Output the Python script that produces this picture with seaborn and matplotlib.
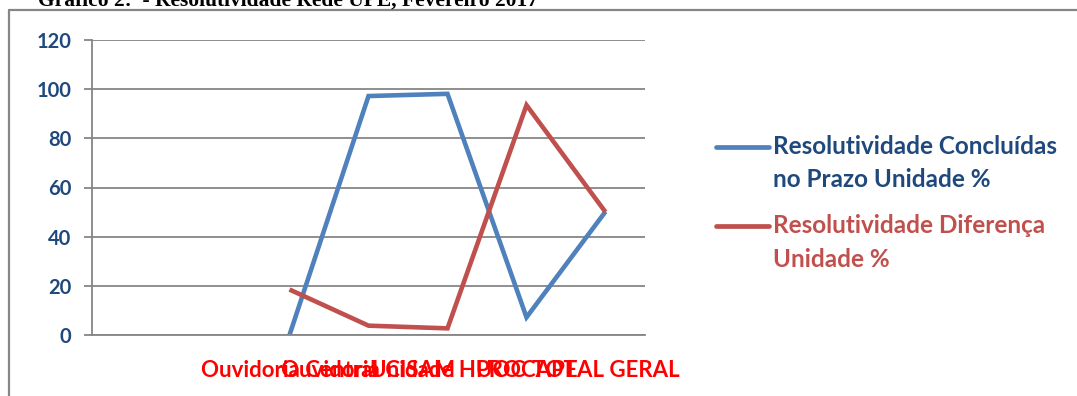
import numpy as np
import pandas as pd
import matplotlib
matplotlib.use("Agg")
import matplotlib.pyplot as plt
from matplotlib.lines import Line2D
from matplotlib.legend_handler import HandlerLine2D
import seaborn as sns

# ---- data ----
categories = ["", "", "Ouvidoria Central", "Ouvidoria CISAM", "Unidade HUOC", "PROCAPE", "TOTAL GERAL"]
concluidas = [np.nan, np.nan, 0, 97.2, 98.1, 7.2, 50.2]
diferenca = [np.nan, np.nan, 18.5, 3.8, 2.7, 93.5, 50.0]
series_names = ["Resolutividade Concluídas\nno Prazo Unidade %",
                "Resolutividade Diferença\nUnidade %"]
y_ticks = [0, 20, 40, 60, 80, 100, 120]
title = "Gráfico 2:  - Resolutividade Rede UPE, Fevereiro 2017"

blue = "#4F81BD"
red = "#C0504D"
dark_blue = "#1F497D"
gray = "#868686"

sns.set_style("white")
plt.rcParams["font.family"] = ["Lato", "DejaVu Sans"]

pos = np.arange(len(categories))
df = pd.concat([
    pd.DataFrame({"pos": pos, "valor": concluidas, "serie": series_names[0]}),
    pd.DataFrame({"pos": pos, "valor": diferenca, "serie": series_names[1]}),
]).dropna()

fig = plt.figure(figsize=(10.77, 3.96), dpi=100)
ax = fig.add_axes([92 / 1077, 1 - 335 / 396, (645 - 92) / 1077, (335 - 40) / 396])

sns.lineplot(data=df, x="pos", y="valor", hue="serie", palette=[blue, red],
             linewidth=3.3, ax=ax, legend=False, sort=False)
for ln in ax.lines:
    ln.set_solid_capstyle("butt")
    ln.set_solid_joinstyle("miter")

ax.set_xlim(-0.5, len(categories) - 0.5)
ax.set_ylim(min(y_ticks), max(y_ticks))
ax.set_yticks(y_ticks)
ax.set_yticklabels([str(t) for t in y_ticks], color=dark_blue, fontweight="bold", fontsize=14.5)
ax.yaxis.grid(True, color=gray, linewidth=1.3)
ax.xaxis.grid(False)
ax.set_axisbelow(True)

# tick marks at category boundaries, labels at centers
ax.set_xticks(np.arange(-0.5, len(categories), 1.0))
ax.set_xticklabels([])
ax.set_xticks(pos, minor=True)
ax.set_xticklabels(categories, minor=True, color="#FF0000", fontweight="bold", fontsize=16)
ax.tick_params(axis="x", which="major", length=6, width=1.3, color=gray, direction="out")
ax.tick_params(axis="x", which="minor", length=0, pad=18)
ax.tick_params(axis="y", length=6, width=1.3, color=gray, direction="out", pad=9, left=True)
ax.set_xlabel("")
ax.set_ylabel("")

for side in ["top", "right"]:
    ax.spines[side].set_visible(False)
for side in ["left", "bottom"]:
    ax.spines[side].set_color(gray)
    ax.spines[side].set_linewidth(1.3)


class FirstLineHandler(HandlerLine2D):
    """Place the legend line beside the first line of a two-line label."""
    def __init__(self, shift, **kw):
        super().__init__(**kw)
        self.shift = shift

    def create_artists(self, legend, orig_handle, xdescent, ydescent, width, height,
                       fontsize, trans):
        arts = super().create_artists(legend, orig_handle, xdescent, ydescent, width,
                                      height, fontsize, trans)
        for a in arts:
            a.set_ydata(np.asarray(a.get_ydata()) + self.shift)
        return arts


handles = [Line2D([], [], color=blue, linewidth=3.4), Line2D([], [], color=red, linewidth=3.4)]
for h in handles:
    h.set_solid_capstyle("round")
leg = fig.legend(handles, series_names, loc="upper left",
                 bbox_to_anchor=(694 / 1077, 1 - 113 / 396), frameon=False,
                 prop={"weight": "bold", "size": 17.5}, labelcolor=[dark_blue, red],
                 handlelength=2.2, handletextpad=0.15, labelspacing=0.95,
                 handler_map={Line2D: FirstLineHandler(shift=12.5)})
for t in leg.get_texts():
    t.set_linespacing(1.55)

# outer frame (left and top borders)
fig.add_artist(Line2D([9 / 1077, 9 / 1077], [0, 1 - 10 / 396], transform=fig.transFigure,
                      color=gray, linewidth=1.6))
fig.add_artist(Line2D([9 / 1077, 1], [1 - 10 / 396, 1 - 10 / 396], transform=fig.transFigure,
                      color=gray, linewidth=1.6))

fig.text(38 / 1077, 1 - 6 / 396, title, family="Liberation Serif", fontweight="bold",
         fontsize=15.5, va="baseline", ha="left", color="black")

fig.savefig("out.png", dpi=100, facecolor="white")
